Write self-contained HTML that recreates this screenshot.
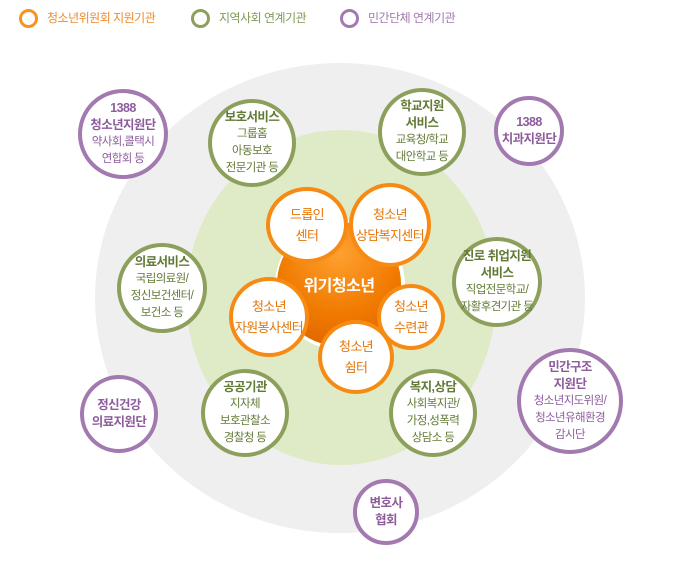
<!DOCTYPE html>
<html><head><meta charset="utf-8"><style>
body{margin:0;width:687px;height:571px;background:#fff;position:relative;overflow:hidden;font-family:"Liberation Sans","Noto Sans CJK KR",sans-serif;}
.c{position:absolute;border-radius:50%;box-sizing:border-box;display:flex;flex-direction:column;align-items:center;justify-content:center;text-align:center;background:#fff;font-size:11.5px;line-height:17px;letter-spacing:-0.6px}
.g{border:4px solid #8ca05c;color:#627a36}
.p{border:4px solid #a37ab0;color:#8d5c9c}
.o{border:4px solid #f78a12;color:#e5760a;font-size:13px;line-height:21px}
b{font-size:12.5px;line-height:17px}
.lg{position:absolute;top:8px;font-size:12px;display:flex;align-items:center;letter-spacing:-0.5px;line-height:20px}
.lg i{display:inline-block;width:19px;height:19px;border-radius:50%;box-sizing:border-box;border:3px solid;margin-right:9px}
</style></head><body>
<div class="lg" style="left:19px;color:#f08c2a"><i style="border-color:#f7931e"></i>청소년위원회 지원기관</div>
<div class="lg" style="left:191px;color:#7f9a55"><i style="border-color:#8ca05c"></i>지역사회 연계기관</div>
<div class="lg" style="left:340px;color:#a37ab0"><i style="border-color:#a37ab0"></i>민간단체 연계기관</div>

<div style="position:absolute;left:95px;top:63px;width:490px;height:470px;border-radius:50%;background:#efefef"></div>
<div style="position:absolute;left:186px;top:130px;width:310px;height:335px;border-radius:50%;background:#dfebc7"></div>
<div style="position:absolute;left:277px;top:222px;width:124px;height:124px;border-radius:50%;background:radial-gradient(circle at 50% 25%,#ffa030,#f07a00 55%,#d85e00);box-shadow:1px 1px 0 3px #fff;display:flex;align-items:center;justify-content:center;color:#fff;font-weight:bold;font-size:16px;letter-spacing:-0.5px">위기청소년</div>

<div class="c o" style="left:266px;top:187px;width:82px;height:76px">드롭인<br>센터</div>
<div class="c o" style="left:349px;top:183px;width:82px;height:84px">청소년<br>상담복지센터</div>
<div class="c o" style="left:229px;top:277px;width:80px;height:80px">청소년<br>자원봉사센터</div>
<div class="c o" style="left:377px;top:284px;width:68px;height:66px">청소년<br>수련관</div>
<div class="c o" style="left:318px;top:320px;width:76px;height:74px">청소년<br>쉼터</div>

<div class="c p" style="left:78px;top:89px;width:90px;height:90px"><b>1388<br>청소년지원단</b>약사회,콜택시<br>연합회 등</div>
<div class="c g" style="left:208px;top:99px;width:88px;height:88px"><b>보호서비스</b>그룹홈<br>아동보호<br>전문기관 등</div>
<div class="c g" style="left:378px;top:88px;width:88px;height:88px"><b>학교지원<br>서비스</b>교육청/학교<br>대안학교 등</div>
<div class="c p" style="left:494px;top:96px;width:70px;height:70px"><b>1388<br>치과지원단</b></div>
<div class="c g" style="left:117px;top:243px;width:90px;height:90px"><b>의료서비스</b>국립의료원/<br>정신보건센터/<br>보건소 등</div>
<div class="c g" style="left:452px;top:237px;width:90px;height:90px"><b>진로 취업지원<br>서비스</b>직업전문학교/<br>자활후견기관 등</div>
<div class="c p" style="left:517px;top:348px;width:106px;height:106px"><b>민간구조<br>지원단</b>청소년지도위원/<br>청소년유해환경<br>감시단</div>
<div class="c p" style="left:80px;top:375px;width:78px;height:78px"><b>정신건강<br>의료지원단</b></div>
<div class="c g" style="left:201px;top:369px;width:88px;height:88px"><b>공공기관</b>지자체<br>보호관찰소<br>경찰청 등</div>
<div class="c g" style="left:389px;top:369px;width:88px;height:88px"><b>복지,상담</b>사회복지관/<br>가정,성폭력<br>상담소 등</div>
<div class="c p" style="left:353px;top:479px;width:66px;height:66px"><b>변호사<br>협회</b></div>
</body></html>
